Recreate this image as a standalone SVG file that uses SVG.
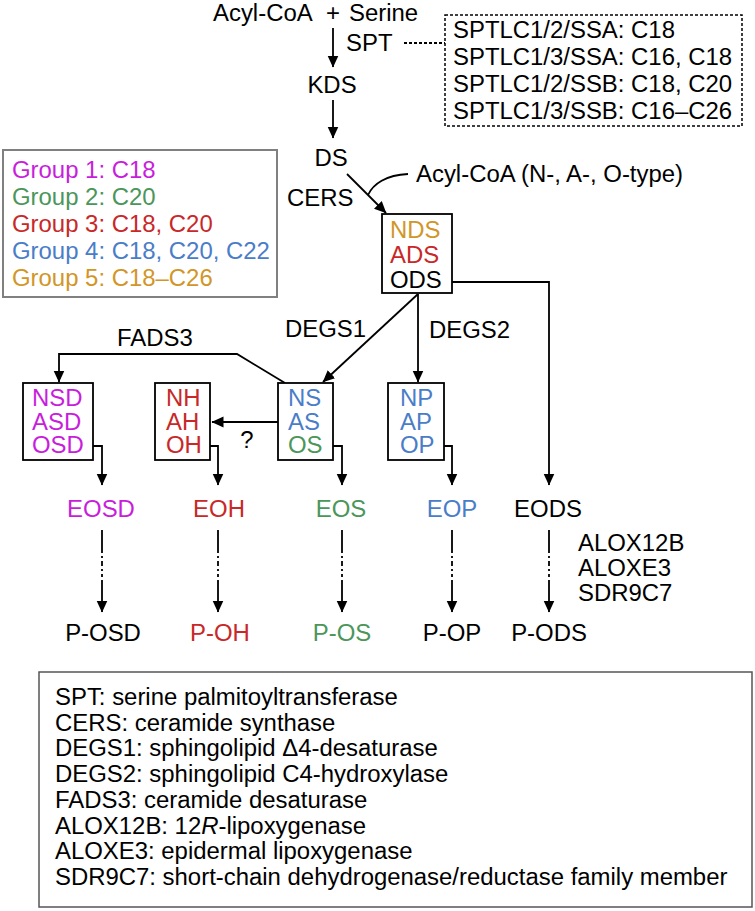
<svg xmlns="http://www.w3.org/2000/svg" width="755" height="911" viewBox="0 0 755 911">
<style>
text{font-family:"Liberation Sans",Arial,Helvetica,sans-serif;font-size:23px;fill:#000}
.m{text-anchor:middle}
.c1{fill:#C81EDC}.c2{fill:#4B965A}.c3{fill:#C82828}.c4{fill:#4A7DC8}.c5{fill:#D29628}
.ln{fill:none;stroke:#000;stroke-width:1.8}
.ar{marker-end:url(#ah)}
.dd{stroke-dasharray:23 3 2 3 5 3 2 3 3 3 200}
.box{fill:#fff;stroke:#000;stroke-width:1.8}
</style>
<defs>
<marker id="ah" markerUnits="userSpaceOnUse" markerWidth="14" markerHeight="12" refX="11.5" refY="5.5" orient="auto">
<path d="M0,0 L12,5.5 L0,11 z" fill="#000"/>
</marker>
</defs>
<rect width="755" height="911" fill="#fff"/>

<g id="connectors">
<line class="ln ar" x1="333" y1="28" x2="333" y2="67"/>
<line class="ln ar" x1="333" y1="100" x2="333" y2="138"/>
<line class="ln" x1="404" y1="43" x2="445" y2="43" stroke-dasharray="3 2"/>
<line class="ln ar" x1="347" y1="174" x2="386" y2="213"/>
<path class="ln" d="M408,174 C386,175 373,184 368,195"/>
<line class="ln ar" x1="418" y1="294" x2="323" y2="382"/>
<line class="ln ar" x1="418" y1="294" x2="418" y2="382"/>
<path class="ln ar" d="M443,282 H549 V485"/>
<path class="ln ar" d="M285,383 L237,354 H59 V382"/>
<line class="ln ar" x1="278" y1="422" x2="212" y2="422"/>
<path class="ln ar" d="M86,446 H102 V485"/>
<path class="ln ar" d="M205,446 H218 V485"/>
<path class="ln ar" d="M325,446 H342 V485"/>
<path class="ln ar" d="M436,446 H452 V485"/>
<line class="ln ar dd" x1="102" y1="530" x2="102" y2="612"/>
<line class="ln ar dd" x1="218" y1="530" x2="218" y2="612"/>
<line class="ln ar dd" x1="342" y1="530" x2="342" y2="612"/>
<line class="ln ar dd" x1="452" y1="530" x2="452" y2="612"/>
<line class="ln ar dd" x1="549" y1="530" x2="549" y2="612"/>
</g>

<g id="substrates">
<text transform="translate(213,20.5) scale(1.04,1)">Acyl-CoA</text>
<text class="m" transform="translate(333,20.5) scale(1.04,1)">+</text>
<text transform="translate(349,20.5) scale(1.04,1)">Serine</text>
</g>
<g id="spt-label"><text transform="translate(346,51) scale(1.04,1)">SPT</text></g>
<g id="spt-box">
<rect x="445" y="15" width="297" height="111" fill="none" stroke="#000" stroke-width="1.5" stroke-dasharray="3 2"/>
<text transform="translate(453,38) scale(1.04,1)">SPTLC1/2/SSA: C18</text>
<text transform="translate(453,65) scale(1.04,1)">SPTLC1/3/SSA: C16, C18</text>
<text transform="translate(453,92) scale(1.04,1)">SPTLC1/2/SSB: C18, C20</text>
<text transform="translate(453,119) scale(1.04,1)">SPTLC1/3/SSB: C16–C26</text>
</g>
<g id="kds"><text class="m" transform="translate(332,93) scale(1.04,1)">KDS</text></g>
<g id="ds"><text class="m" transform="translate(331,166) scale(1.04,1)">DS</text></g>
<g id="cers-label"><text transform="translate(287,206) scale(1.04,1)">CERS</text></g>
<g id="acyl-coa-types"><text transform="translate(416,182) scale(1.04,1)">Acyl-CoA (N-, A-, O-type)</text></g>

<g id="group-legend">
<rect x="3" y="150" width="274" height="147" fill="none" stroke="#808080" stroke-width="2"/>
<text class="c1" transform="translate(12,178) scale(1.04,1)">Group 1: C18</text>
<text class="c2" transform="translate(12,205) scale(1.04,1)">Group 2: C20</text>
<text class="c3" transform="translate(12,232) scale(1.04,1)">Group 3: C18, C20</text>
<text class="c4" transform="translate(12,259) scale(1.04,1)">Group 4: C18, C20, C22</text>
<text class="c5" transform="translate(12,286) scale(1.04,1)">Group 5: C18–C26</text>
</g>

<g id="dihydroceramides">
<rect class="box" x="382" y="214" width="70" height="79"/>
<text class="c5" transform="translate(390,238) scale(1.04,1)">NDS</text>
<text class="c3" transform="translate(390,263) scale(1.04,1)">ADS</text>
<text transform="translate(390,288) scale(1.04,1)">ODS</text>
</g>

<g id="degs1-label"><text transform="translate(285,336.5) scale(1.04,1)">DEGS1</text></g>
<g id="degs2-label"><text transform="translate(429,338) scale(1.04,1)">DEGS2</text></g>
<g id="fads3-label"><text transform="translate(117,346) scale(1.04,1)">FADS3</text></g>

<g id="sd">
<rect class="box" x="23" y="383" width="70" height="77"/>
<text class="c1" transform="translate(32,406) scale(1.04,1)">NSD</text>
<text class="c1" transform="translate(32,430) scale(1.04,1)">ASD</text>
<text class="c1" transform="translate(32,453) scale(1.04,1)">OSD</text>
</g>
<g id="h">
<rect class="box" x="155" y="383" width="55" height="77"/>
<text class="c3" transform="translate(166,406) scale(1.04,1)">NH</text>
<text class="c3" transform="translate(166,430) scale(1.04,1)">AH</text>
<text class="c3" transform="translate(166,453) scale(1.04,1)">OH</text>
</g>
<g id="question"><text class="m" transform="translate(247,447.5) scale(1.04,1)">?</text></g>
<g id="s">
<rect class="box" x="278" y="383" width="55" height="77"/>
<text class="c4" transform="translate(288,406) scale(1.04,1)">NS</text>
<text class="c4" transform="translate(288,430) scale(1.04,1)">AS</text>
<text class="c2" transform="translate(288,453) scale(1.04,1)">OS</text>
</g>
<g id="p">
<rect class="box" x="388" y="383" width="56" height="77"/>
<text class="c4" transform="translate(400,406) scale(1.04,1)">NP</text>
<text class="c4" transform="translate(400,430) scale(1.04,1)">AP</text>
<text class="c4" transform="translate(400,453) scale(1.04,1)">OP</text>
</g>

<g id="eosd"><text class="m c1" transform="translate(101,517) scale(1.04,1)">EOSD</text></g>
<g id="eoh"><text class="m c3" transform="translate(219,517) scale(1.04,1)">EOH</text></g>
<g id="eos"><text class="m c2" transform="translate(341,517) scale(1.04,1)">EOS</text></g>
<g id="eop"><text class="m c4" transform="translate(452,517) scale(1.04,1)">EOP</text></g>
<g id="eods"><text class="m" transform="translate(548,517) scale(1.04,1)">EODS</text></g>

<g id="enzymes">
<text transform="translate(578,551) scale(1.04,1)">ALOX12B</text>
<text transform="translate(578,576) scale(1.04,1)">ALOXE3</text>
<text transform="translate(578,601) scale(1.04,1)">SDR9C7</text>
</g>

<g id="p-osd"><text class="m" transform="translate(103,641) scale(1.04,1)">P-OSD</text></g>
<g id="p-oh"><text class="m c3" transform="translate(220,641) scale(1.04,1)">P-OH</text></g>
<g id="p-os"><text class="m c2" transform="translate(342,641) scale(1.04,1)">P-OS</text></g>
<g id="p-op"><text class="m" transform="translate(452,641) scale(1.04,1)">P-OP</text></g>
<g id="p-ods"><text class="m" transform="translate(549,641) scale(1.04,1)">P-ODS</text></g>

<g id="abbrev-legend">
<rect x="39" y="672" width="713" height="235" fill="none" stroke="#555" stroke-width="1.5"/>
<text transform="translate(55,705) scale(1.04,1)">SPT: serine palmitoyltransferase</text>
<text transform="translate(55,730.7) scale(1.04,1)">CERS: ceramide synthase</text>
<text transform="translate(55,756.4) scale(1.04,1)">DEGS1: sphingolipid Δ4-desaturase</text>
<text transform="translate(55,782.1) scale(1.04,1)">DEGS2: sphingolipid C4-hydroxylase</text>
<text transform="translate(55,807.8) scale(1.04,1)">FADS3: ceramide desaturase</text>
<text transform="translate(55,833.5) scale(1.04,1)">ALOX12B: 12<tspan font-style="italic">R</tspan>-lipoxygenase</text>
<text transform="translate(55,859.2) scale(1.04,1)">ALOXE3: epidermal lipoxygenase</text>
<text transform="translate(55,884.9) scale(1.04,1)">SDR9C7: short-chain dehydrogenase/reductase family member</text>
</g>
</svg>
